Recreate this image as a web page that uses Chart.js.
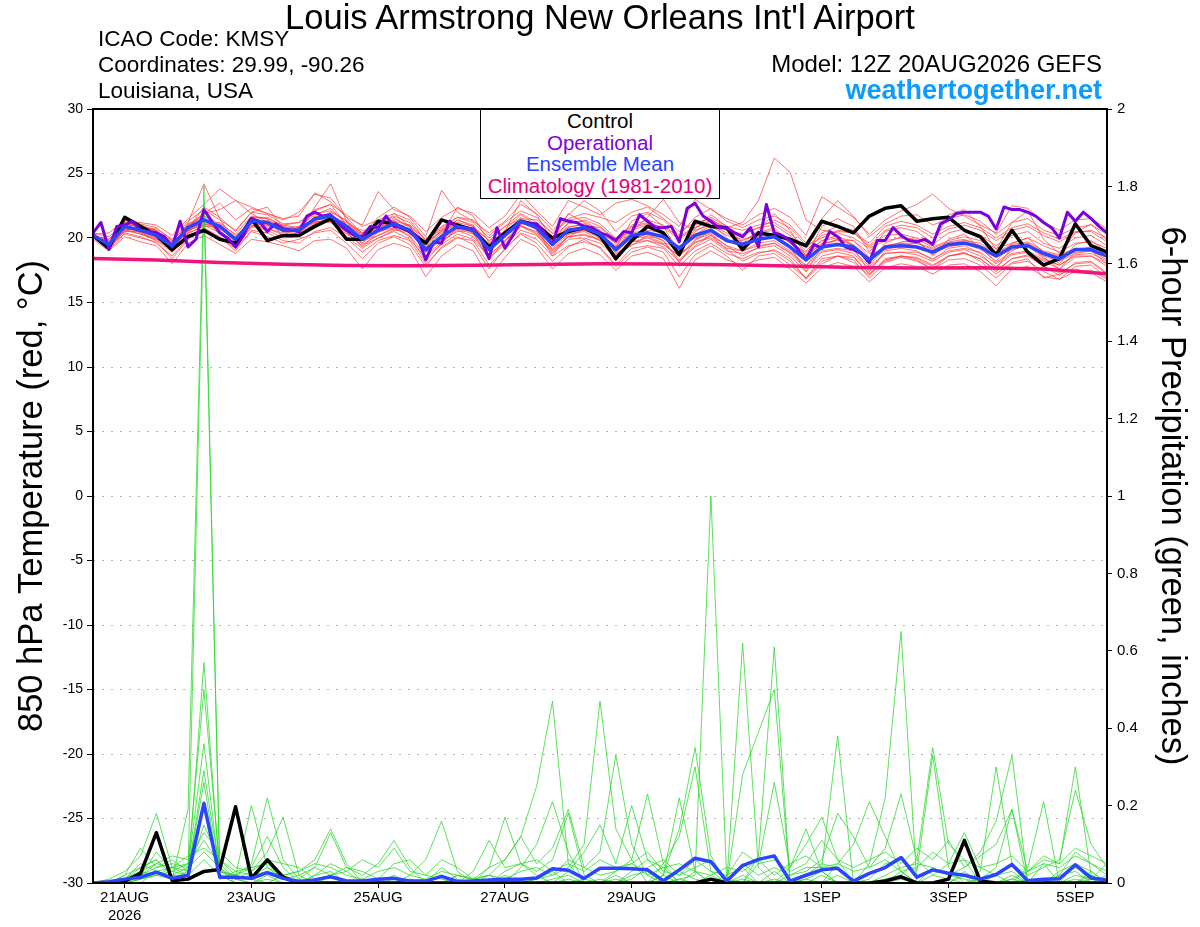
<!DOCTYPE html>
<html>
<head>
<meta charset="utf-8">
<title>KMSY GEFS 850 hPa temperature and precipitation</title>
<script src="https://cdn.jsdelivr.net/npm/chart.js@4.4.1/dist/chart.umd.min.js"></script>
<style>
  body { margin: 0; background: #fff; font-family: "Liberation Sans", Arial, sans-serif; }
  #wrap { position: relative; width: 1200px; height: 927px; }
  #wrap canvas { position: absolute; left: 0; top: 0; }
  .txt { position: absolute; white-space: nowrap; color: #000; }
  #title { left: 0; width: 1200px; top: -3px; text-align: center; font-size: 34.5px; line-height: 40px; }
  #info { left: 98px; top: 26px; font-size: 22.5px; line-height: 26px; }
  #model { right: 98px; top: 50px; font-size: 24px; line-height: 28px; text-align: right; }
  #site { right: 98px; top: 74px; font-size: 27px; line-height: 32px; font-weight: bold; color: #0d9bff; }
  #legend { position: absolute; left: 480px; top: 109px; width: 240px; height: 90px; background: #fff;
            border: 1.5px solid #000; text-align: center; font-size: 20.5px; line-height: 21.5px; box-sizing: border-box; }
</style>
</head>
<body>
<div id="wrap">
  <canvas id="plume" width="1200" height="927"></canvas>
  <div class="txt" id="title">Louis Armstrong New Orleans Int'l Airport</div>
  <div class="txt" id="info">ICAO Code: KMSY<br>Coordinates: 29.99, -90.26<br>Louisiana, USA</div>
  <div class="txt" id="model">Model: 12Z 20AUG2026 GEFS</div>
  <div class="txt" id="site">weathertogether.net</div>
  <div id="legend">
    <div style="color:#000">Control</div>
    <div style="color:#8000e0">Operational</div>
    <div style="color:#2a44ff">Ensemble Mean</div>
    <div style="color:#e6007e">Climatology (1981-2010)</div>
  </div>
</div>
<script>
// hours after 12Z 20AUG2026
var stepHours = 6;
var opStepHours = 3;
var climStepHours = 24;
var dayTicks = [12, 60, 108, 156, 204, 276, 324, 372];
var dayLabels = [['21AUG', '2026'], '23AUG', '25AUG', '27AUG', '29AUG', '1SEP', '3SEP', '5SEP'];

// 850 hPa temperature, 6-hourly
var tempControl = [20.2,19.2,21.6,20.9,20.2,19.1,20.1,20.6,19.9,19.6, 21.5,19.8,20.2,20.2,20.9,21.5,19.9,19.9,21.3,21.1,
  20.5,19.6,21.4,21.0,20.6,19.3,20.4,21.3,21.0,20.0, 20.5,20.8,20.2,18.4,19.8,20.9,20.4,18.7,21.3,20.9,
  20.8,19.1,20.4,20.2,19.9,19.4,21.3,20.9,20.4,21.7, 22.3,22.5,21.3,21.5,21.6,20.6,20.1,18.7,20.6,18.9,
  17.9,18.4,21.1,19.4,18.9];
var tempMean = [20.2,19.5,20.9,20.6,20.2,19.4,20.8,21.4,20.9,19.9, 21.3,21.2,20.6,20.6,21.5,21.7,20.9,19.9,20.6,21.1,
  20.6,19.1,20.1,20.9,20.6,19.1,20.2,21.3,20.8,19.5, 20.6,20.8,20.3,19.1,20.2,20.4,20.1,19.2,20.2,20.6,
  19.8,19.5,19.9,20.1,19.3,18.3,19.3,19.5,19.3,18.3, 19.3,19.4,19.3,18.9,19.5,19.6,19.3,18.6,19.3,19.4,
  18.8,18.4,19.1,19.1,18.6];
// operational run, 3-hourly
var tempOper = [20.4,21.2,19.1,20.9,21.0,21.3,20.6,20.5,20.4,20.1, 19.3,21.3,19.3,19.9,22.2,21.3,20.4,20.0,19.3,20.2,
  21.5,21.3,20.5,21.1,20.7,20.6,20.5,21.7,22.0,21.7, 21.8,21.1,20.6,20.2,20.1,20.9,20.8,21.7,20.9,20.8,
  20.5,20.1,18.3,19.7,19.6,21.3,20.8,20.8,20.7,19.9, 18.4,20.8,19.2,20.2,21.3,21.1,21.1,20.4,19.5,21.5,
  21.3,21.2,20.9,20.8,20.4,20.2,19.8,20.5,20.4,21.8, 21.3,20.8,20.8,20.9,19.7,22.3,22.7,21.7,21.3,20.8,
  20.8,20.4,20.1,20.8,19.3,22.6,20.4,20.2,19.8,19.1, 18.3,19.5,19.2,20.5,20.1,19.3,19.1,18.8,18.1,19.8,
  19.8,20.8,20.2,19.8,19.7,19.9,19.5,21.1,21.4,21.9, 22.0,22.0,22.0,21.7,20.7,22.4,22.2,22.2,22.0,21.7,
  21.2,20.8,20.0,22.0,21.3,22.0,21.5,20.9,20.4];
// climatology, daily
var tempClim = [18.42,18.29,18.1,17.97,17.87,17.85,17.88,17.95,18.0,17.98,17.92,17.83,17.72,17.68,17.7,17.6,17.22];

// ensemble members, 6-hourly
var tempE01 = [20.1,19.8,21.0,20.4,20.0,19.2,21.2,24.2,21.5,19.6, 21.0,20.8,20.2,20.9,21.8,22.3,21.0,20.2,20.9,21.6,
  20.8,18.9,20.3,21.2,20.9,19.4,20.6,21.8,21.0,19.8, 21.2,21.3,20.6,19.6,20.8,21.1,20.2,19.0,20.5,21.2,
  20.0,19.2,20.4,20.8,19.6,18.6,19.8,20.2,19.4,18.0, 19.6,20.1,19.8,18.6,19.9,20.3,19.2,18.2,19.6,20.0,
  18.9,18.0,19.5,19.8,18.9];
var tempE02 = [20.3,19.1,20.6,20.9,20.5,19.0,20.4,21.8,20.6,19.3, 21.6,21.5,20.1,20.3,22.4,24.2,21.3,19.5,20.2,20.8,
  20.2,18.6,19.7,20.6,20.1,18.6,19.8,20.9,20.3,18.9, 20.1,20.3,19.8,18.7,19.7,20.0,19.5,18.6,19.9,20.3,
  19.4,19.0,19.4,19.6,18.8,17.6,18.9,19.1,18.8,17.6, 18.8,18.9,18.7,18.2,18.9,19.1,18.6,17.8,18.7,18.9,
  18.2,17.6,18.5,18.6,18.0];
var tempE03 = [20.0,19.6,21.2,20.8,20.4,19.7,20.6,21.0,21.2,20.2, 21.2,20.9,21.0,20.8,21.2,21.5,21.2,20.4,20.5,21.3,
  21.0,19.6,20.5,21.0,20.8,19.8,20.3,21.4,21.1,19.9, 20.9,21.0,20.8,19.8,20.6,21.0,20.9,20.1,20.8,21.4,
  20.8,21.2,22.9,26.2,25.1,21.4,20.6,20.4,20.0,19.2, 19.8,20.0,19.9,19.3,19.8,20.1,19.8,19.2,19.6,20.0,
  19.4,18.9,19.6,19.7,19.2];
var tempE04 = [20.2,19.0,20.4,20.1,19.6,18.6,20.0,20.8,20.1,19.0, 20.6,20.4,19.8,19.6,20.5,20.8,20.0,18.9,19.8,20.2,
  19.8,18.0,19.2,20.0,19.8,17.9,19.1,20.4,19.9,18.6, 19.4,19.7,19.3,17.9,19.2,19.4,19.2,17.8,19.0,19.6,
  18.8,18.4,18.9,19.0,18.2,16.9,18.2,18.6,18.3,16.9, 18.1,18.5,18.2,17.6,18.3,18.4,17.9,16.9,18.0,18.2,
  17.4,16.8,17.8,17.9,16.9];
var tempE05 = [20.4,20.1,21.1,20.8,20.7,19.9,21.3,22.2,21.4,20.6, 22.0,21.8,21.1,21.2,22.2,22.6,21.8,20.9,21.4,21.9,
  21.4,19.8,20.8,21.6,21.4,20.2,21.2,22.1,21.6,20.3, 21.4,21.6,21.1,20.0,21.0,21.4,21.0,20.0,21.0,21.6,
  20.9,20.6,21.0,21.2,20.4,19.2,20.4,20.9,20.6,19.4, 20.6,21.0,20.8,20.0,20.7,21.0,20.6,19.8,20.6,20.9,
  20.2,19.7,20.4,20.6,20.0];
var tempE06 = [20.1,19.3,20.7,20.3,19.9,19.5,21.0,21.6,20.6,19.5, 21.0,20.7,20.4,20.8,21.3,21.2,20.3,19.6,20.9,21.4,
  20.3,19.4,20.6,21.2,20.3,19.6,20.5,21.0,20.4,19.2, 20.3,20.5,19.8,18.9,20.0,20.1,19.6,19.4,20.0,20.4,
  19.7,19.8,20.4,20.6,19.8,18.5,19.6,19.8,19.8,18.8, 19.1,19.4,19.6,19.2,19.7,19.9,19.4,18.9,19.5,19.7,
  19.0,18.7,19.2,19.0,18.5];
var tempE07 = [20.0,19.7,20.8,20.7,20.4,19.3,20.5,21.3,21.0,20.1, 21.1,21.4,20.8,20.4,21.6,21.9,20.6,19.8,20.2,20.7,
  20.6,19.0,19.8,20.5,20.6,19.0,20.1,21.1,20.9,19.6, 20.8,20.6,20.2,19.4,20.4,20.6,20.4,19.3,20.3,20.9,
  20.2,19.9,20.2,20.4,19.6,18.9,19.8,20.0,19.8,18.5, 19.4,19.6,19.6,19.1,19.6,19.8,19.6,18.8,19.4,19.6,
  18.9,18.6,19.1,19.3,18.8];
var tempE08 = [20.3,19.5,21.0,20.5,20.1,19.1,20.7,21.2,20.8,19.8, 21.4,21.0,20.5,20.3,21.7,21.6,21.0,20.6,20.6,21.5,
  20.9,19.3,20.4,21.4,21.0,19.3,20.4,21.6,20.6,19.1, 20.1,20.7,20.6,18.8,19.4,20.2,19.8,18.3,19.4,20.2,
  19.4,18.6,19.3,19.6,18.9,17.8,19.4,19.6,19.2,17.4, 19.0,19.2,19.0,18.3,19.2,19.4,18.8,17.6,19.3,19.4,
  18.4,17.9,18.6,18.6,17.8];
var tempE09 = [20.2,19.6,20.5,20.9,20.6,19.6,20.9,21.5,20.3,19.4, 20.8,21.3,20.9,20.7,21.4,22.0,21.4,20.1,20.4,21.0,
  21.0,19.9,20.9,21.6,21.2,20.0,20.9,21.5,21.4,20.4, 21.5,21.9,21.6,21.2,22.0,22.4,21.5,20.5,21.2,21.5,
  20.6,20.3,20.8,21.4,20.8,19.4,20.0,20.6,20.4,19.3, 20.2,20.3,20.0,19.5,20.4,20.7,20.2,19.4,20.2,20.5,
  19.6,19.2,20.0,20.2,19.4];
var tempE10 = [20.1,19.2,20.6,20.3,19.8,18.9,20.4,20.9,20.9,19.6, 21.2,21.0,20.6,20.5,21.2,21.4,20.4,19.4,20.0,20.6,
  20.5,18.9,19.9,20.7,20.3,18.7,19.7,20.9,20.5,19.0, 20.1,20.2,19.9,18.6,19.7,19.8,19.5,18.6,19.7,20.0,
  19.2,19.0,19.6,19.8,19.0,17.9,19.0,19.2,19.0,17.8, 18.8,18.9,18.9,18.4,19.0,19.2,18.9,18.0,18.8,19.0,
  18.3,17.9,18.7,18.8,18.2];
var tempE11 = [20.3,19.4,20.9,20.6,20.3,19.6,20.6,21.1,20.7,20.0, 21.3,21.1,20.7,20.9,21.4,21.5,20.8,20.0,20.7,21.2,
  20.7,19.2,20.1,20.9,20.5,19.3,20.2,21.2,20.7,19.4, 20.4,20.9,20.1,19.3,20.1,20.5,20.0,18.8,19.6,20.2,
  19.1,18.2,18.8,19.1,18.4,16.8,18.0,18.6,18.5,17.2, 18.2,18.6,18.4,17.8,18.6,18.8,18.4,17.5,18.4,18.7,
  17.8,17.1,18.1,18.2,17.3];
var tempE12 = [20.0,19.9,21.2,20.9,20.5,19.8,21.1,21.7,21.1,20.3, 21.7,21.5,21.0,21.2,21.9,22.1,21.3,20.4,21.1,21.7,
  21.2,19.8,20.7,21.4,20.9,19.8,20.9,21.9,21.2,20.1, 21.1,21.4,20.9,19.9,20.9,21.2,20.8,19.9,20.8,21.3,
  20.6,20.2,20.8,21.0,20.2,19.0,20.2,20.5,20.4,19.6, 20.9,21.3,21.0,20.3,20.9,21.2,20.8,20.0,20.8,21.1,
  20.4,19.9,20.5,20.5,19.7];
var tempE13 = [20.2,19.3,20.8,20.4,19.9,19.0,20.6,21.5,20.4,19.2, 20.9,20.6,20.0,20.1,21.1,21.3,20.1,19.2,20.0,20.5,
  19.9,18.5,19.5,20.3,19.9,18.5,19.5,20.6,20.2,18.8, 19.9,20.0,19.6,18.5,19.5,19.8,19.3,18.2,19.3,19.9,
  19.0,18.8,19.2,19.4,18.6,17.4,18.6,18.9,18.6,17.2, 18.4,18.6,18.5,17.9,18.6,18.8,18.4,17.4,18.4,18.6,
  17.8,17.3,18.0,18.1,17.2];
var tempE14 = [20.1,19.7,20.7,20.6,20.3,19.4,20.8,21.9,22.2,22.9, 21.9,21.2,20.5,20.6,21.3,21.8,21.0,20.3,20.8,21.3,
  20.4,19.6,20.6,21.1,20.7,19.5,20.4,21.3,20.9,19.8, 20.8,21.1,20.4,19.6,20.5,21.6,23.0,21.2,20.6,21.0,
  20.4,19.6,20.1,20.3,19.9,18.7,19.5,19.9,19.5,18.4, 19.4,19.6,19.3,18.9,19.3,19.6,19.1,18.5,19.1,19.4,
  18.6,18.2,18.8,19.0,18.3];
var tempE15 = [20.3,20.4,21.3,21.2,21.0,20.2,21.5,22.6,23.8,22.9, 22.4,21.9,21.5,21.7,23.5,22.8,21.6,21.0,23.6,22.2,
  21.7,20.5,21.6,22.3,21.9,20.8,21.7,23.4,22.1,20.9, 22.9,22.4,21.8,22.7,23.0,22.5,21.8,20.9,23.0,22.2,
  21.5,21.0,21.8,22.3,21.6,20.2,23.2,22.4,21.6,20.3, 21.4,22.1,22.6,23.4,22.3,21.7,21.0,20.4,22.5,22.3,
  21.2,20.6,21.4,21.5,20.7];
var tempE16 = [19.9,19.0,20.1,19.7,19.4,18.0,19.6,20.2,19.5,18.8, 19.9,19.7,19.4,19.0,19.8,19.9,19.2,17.6,19.1,19.6,
  19.2,17.0,18.6,19.5,19.0,16.9,18.5,19.9,19.3,17.6, 18.8,19.2,18.7,17.5,18.6,18.9,18.4,16.1,18.3,19.0,
  18.3,17.9,18.3,18.5,17.6,16.5,17.7,18.1,17.8,16.6, 17.7,18.0,17.8,17.2,17.9,18.0,17.4,16.3,17.6,17.8,
  17.0,16.8,17.4,17.5,16.8];
var tempE17 = [20.2,19.9,20.9,21.1,20.8,19.8,21.0,21.9,22.7,21.4, 22.3,21.9,21.4,22.0,23.4,23.1,21.6,20.3,21.6,22.4,
  21.6,20.1,23.7,22.0,21.3,20.4,21.3,22.6,21.9,20.6, 21.8,22.9,22.1,20.5,21.7,22.0,21.4,20.2,21.6,22.3,
  21.3,20.8,21.4,21.7,21.0,19.6,21.5,22.9,21.7,20.1, 21.1,21.7,21.8,21.0,21.5,21.8,21.3,20.3,21.2,21.5,
  20.6,20.2,20.8,21.0,20.3];
var tempE18 = [20.0,19.4,20.3,20.0,19.7,18.4,19.9,20.6,20.0,19.2, 20.5,20.1,19.6,19.9,20.4,20.6,19.6,18.4,19.6,20.1,
  19.5,17.8,19.3,20.1,19.5,17.6,19.2,20.3,19.6,18.2, 19.3,19.9,19.2,17.8,18.9,19.3,18.9,17.0,18.7,19.4,
  18.6,17.5,18.6,18.8,17.9,16.9,18.4,18.6,18.1,17.1, 18.3,18.6,18.3,17.6,18.6,18.9,18.2,17.2,18.1,18.4,
  16.9,17.2,17.6,17.3,16.6];
var tempE19 = [20.4,19.6,21.4,21.0,20.6,19.3,20.7,22.4,21.6,20.5, 22.0,22.4,20.8,20.7,22.1,22.6,21.0,19.6,20.6,21.9,
  20.9,19.2,20.2,22.4,21.7,19.6,20.5,22.9,21.8,19.8, 21.9,21.2,20.4,19.3,21.3,21.9,20.9,18.8,20.7,21.8,
  20.9,19.6,20.6,21.9,20.6,18.6,20.9,21.5,20.9,18.9, 20.5,20.8,20.5,19.6,21.8,22.2,20.9,19.1,21.2,22.1,
  19.9,18.8,20.4,21.1,19.8];
var tempE20 = [20.1,19.4,20.5,20.5,20.1,18.9,20.3,21.0,20.4,19.6, 21.6,21.6,20.9,20.4,21.1,21.3,20.5,19.3,20.5,20.8,
  20.1,18.2,19.6,20.8,20.4,18.3,19.8,21.2,20.7,18.6, 20.3,20.6,20.0,18.2,19.9,20.3,19.8,18.1,19.8,20.6,
  19.8,19.3,19.9,20.1,19.3,17.4,19.3,19.9,19.4,17.9, 19.2,19.7,19.8,18.7,19.4,19.8,19.3,18.1,19.0,19.6,
  18.5,17.6,18.9,19.0,18.0];

// 6-hour precipitation (inches)
var precipControl = [0,0,.005,.025,.13,.006,.01,.03,.035,.197, .012,.06,.015,0,0,0,0,0,0,0,
  0,0,0,0,0,0,0,0,0,0, 0,0,0,0,0,0,0,0,0,.01, 0,0,0,0,0,0,0,0,0,0,
  .005,.016,0,0,.01,.11,.005,0,0,0, 0,0,0,0,0];
var precipMean = [0,.003,.01,.015,.028,.012,.02,.206,.015,.015, .012,.027,.012,.004,.008,.016,.005,.005,.01,.012,
  .005,.005,.017,.004,.005,.008,.01,.01,.013,.037, .033,.012,.038,.038,.037,.034,.006,.034,.064,.055,
  .005,.045,.061,.07,.005,.02,.034,.038,.005,.025, .04,.066,.015,.034,.025,.02,.01,.022,.048,.006,
  .01,.011,.047,.013,.008];
var precipE01 = [0,0,0,.01,.02,.01,.19,1.80,.03,.01, 0,.02,0,0,0,0,0,.01,0,0, 0,0,.02,0,0,0,0,0,.01,.03,
  0,0,.01,0,0,0,0,.01,.02,1.00, .01,0,0,.01,0,0,.02,0,0,0, 0,.01,0,0,0,0,.03,.30,.05,0, 0,0,.01,0,0];
var precipE02 = [0,0,.01,.03,.05,.04,.03,1.75,.03,.02, .01,0,0,0,.01,0,0,0,0,.01, 0,0,0,0,0,.02,0,0,0,0,
  .01,0,0,0,.02,.03,0,0,0,.02, 0,.62,.04,0,0,.01,0,0,0,0, .01,.02,0,0,0,0,0,0,.01,0, 0,.02,.03,0,0];
var precipE03 = [0,0,0,.02,.08,.03,.02,.57,.02,0, 0,.01,0,0,0,0,0,0,0,0, 0,0,0,0,.01,.02,.06,.12,.25,.47,
  .05,0,0,.01,0,0,0,.01,0,0, 0,.01,0,.03,0,.02,.05,.04,0,0, 0,.03,0,0,0,0,.01,.04,.19,0, 0,0,0,.02,0];
var precipE04 = [0,0,.01,.05,.03,.04,.05,.50,.04,0, 0,0,0,0,.02,.03,0,0,0,0, .01,0,0,0,0,0,0,0,.01,.02,
  .04,.10,.47,.14,.06,0,0,0,0,.01, 0,0,.07,.61,0,0,0,0,0,0, 0,0,0,.02,.01,0,0,0,.02,0, 0,.01,.04,.02,0];
var precipE05 = [0,0,.02,.04,.06,.02,.04,.36,.02,.01, .02,.04,.02,0,0,0,0,0,0,0, 0,0,0,0,0,0,0,0,0,0,
  0,.01,0,0,0,0,.02,0,0,0, 0,.02,0,0,0,0,0,.02,0,.05, .22,.65,0,0,0,.02,0,0,0,.01, 0,0,0,.01,0];
var precipE06 = [0,0,0,0,.03,.01,.03,.29,.03,.02, .05,.22,.06,.01,0,0,0,0,0,.02, 0,0,.04,.01,0,0,0,0,0,0,
  0,0,0,0,.03,.06,.04,0,0,0, 0,0,0,0,.02,.04,.04,.38,0,0, 0,0,0,.04,.02,.01,0,0,0,0, .05,0,0,.03,0];
var precipE07 = [0,0,.01,.02,.04,.06,.03,.26,.01,.02, .20,.04,.01,0,0,0,0,0,0,0, 0,0,0,.02,.01,0,.02,0,0,0,
  0,0,0,0,0,0,.02,.14,.35,.07, 0,0,0,0,0,.01,.03,0,0,.01, .05,.06,.03,.33,.04,0,.01,.02,.03,0, 0,0,.02,.01,.05];
var precipE08 = [0,0,0,.01,.02,.03,.05,.11,.05,.01, .03,.08,.17,.02,0,0,0,0,0,0, 0,0,0,0,0,0,0,0,0,.01,
  .02,0,0,.02,0,0,.05,.12,.30,.03, 0,.28,.39,.50,0,0,0,0,0,0, 0,0,0,0,0,0,0,0,.01,.03, .07,.05,.30,.02,0];
var precipE09 = [0,.01,.03,.07,.18,.04,.02,.06,.02,0, 0,0,.02,.03,.06,.14,.05,0,0,0, .02,.06,.16,.03,0,0,0,.04,.10,.21,
  .08,0,0,.03,.06,.23,.05,0,.03,0, 0,0,0,0,0,0,0,.05,.10,.21, .12,.03,0,0,0,.03,0,.02,0,0, 0,.03,.05,.03,0];
var precipE10 = [0,0,.02,.09,.04,.05,.04,.08,.04,.01, 0,0,0,.01,.04,.13,.04,.02,.05,.11, .04,0,0,.02,.01,.04,.06,.12,.05,.09,
  .19,.04,.08,.33,.10,.02,0,.03,.01,0, 0,0,.05,.26,.04,.14,.03,0,0,0, 0,.02,.06,.35,.10,.06,0,0,0,.04, .21,0,.05,0,.02];
var precipE11 = [0,0,0,.01,.03,.02,.02,.15,.06,.02, .04,.12,.04,0,.02,.05,.03,0,0,0, 0,0,.02,0,0,.04,.17,.05,.02,0,
  .03,.08,.15,.05,.20,.06,.02,.22,.03,0, .02,.04,0,0,.04,.10,.17,.06,0,0, .02,.04,.05,.04,.02,.04,.08,.16,.33,0, 0,.02,.08,.05,.02];
var precipE12 = [0,0,.01,.04,.06,.02,.01,.20,.01,.03, .04,.05,.01,.02,.04,.02,.03,.06,.04,.09, .03,.02,.01,0,.03,.11,.04,.05,.03,.06,
  .18,.02,0,0,.01,.04,.06,.02,.04,.06, .01,.05,.02,.04,.02,.03,.06,.18,.12,.04, .09,.23,.06,.02,.05,.13,.04,.02,.05,.02, .04,.06,.24,.10,.04];
var precipE13 = [0,0,0,.02,.05,.07,.06,.13,.08,.04, .03,.06,.05,.04,.01,.02,.04,.03,.01,.05, .06,.02,.06,.04,.01,0,.03,.05,.06,.03,
  .05,.03,.06,.04,.05,.08,.03,.02,.06,.03, .02,.08,.05,.06,.03,.05,.11,.06,.04,.06, .08,.05,.09,.06,.11,.04,.07,.10,.19,.03, .06,.05,.09,.07,.05];
var precipE14 = [0,0,.01,.03,.02,.04,.07,.09,.06,.03, .02,.03,.02,.03,.05,.04,.02,.01,.03,.04, .02,.01,.03,.02,.01,.02,.01,.03,.04,.02,
  .06,.04,.02,.03,.05,.02,.04,.05,.03,.02, .04,.03,.06,.02,.05,.07,.04,.05,.03,.04, .06,.03,.04,.08,.05,.06,.04,.05,.07,.03, .05,.04,.07,.05,.03];

var tempMembers = [tempE01, tempE02, tempE03, tempE04, tempE05, tempE06, tempE07, tempE08, tempE09, tempE10,
  tempE11, tempE12, tempE13, tempE14, tempE15, tempE16, tempE17, tempE18, tempE19, tempE20];
var precipMembers = [precipE01, precipE02, precipE03, precipE04, precipE05, precipE06, precipE07,
  precipE08, precipE09, precipE10, precipE11, precipE12, precipE13, precipE14];

var fontFamily = '"Liberation Sans", Arial, sans-serif';

function toPoints(values, step) {
  return values.map(function (v, i) { return { x: i * step, y: v }; });
}

function lineSet(label, values, step, axis, color, width, order) {
  return {
    label: label,
    data: toPoints(values, step),
    yAxisID: axis,
    borderColor: color,
    borderWidth: width,
    pointRadius: 0,
    tension: 0,
    fill: false,
    order: order,
    borderJoinStyle: width > 2 ? 'round' : 'miter'
  };
}

function buildDatasets() {
  var sets = [];
  sets.push(lineSet('Ensemble Mean precip', precipMean, stepHours, 'yP', '#2a44ff', 3.5, 1));
  sets.push(lineSet('Control precip', precipControl, stepHours, 'yP', '#000000', 3.5, 2));
  sets.push(lineSet('Ensemble Mean', tempMean, stepHours, 'yT', '#2a44ff', 3.5, 3));
  sets.push(lineSet('Operational', tempOper, opStepHours, 'yT', '#7a00e0', 3, 4));
  sets.push(lineSet('Control', tempControl, stepHours, 'yT', '#000000', 3.5, 5));
  sets.push(lineSet('Climatology (1981-2010)', tempClim, climStepHours, 'yT', '#f0147c', 3.5, 6));
  precipMembers.forEach(function (m, k) {
    sets.push(lineSet('precip member ' + (k + 1), m, stepHours, 'yP', 'rgba(40,215,40,0.85)', 0.9, 10));
  });
  tempMembers.forEach(function (m, k) {
    sets.push(lineSet('temp member ' + (k + 1), m, stepHours, 'yT', 'rgba(255,60,60,0.8)', 0.9, 11));
  });
  return sets;
}

var framePlugin = {
  id: 'frame',
  afterDatasetsDraw: function (chart) {
    var a = chart.chartArea, c = chart.ctx;
    c.save();
    c.strokeStyle = '#000';
    c.lineWidth = 2;
    c.strokeRect(a.left, a.top, a.right - a.left, a.bottom - a.top);
    c.restore();
  }
};

Chart.defaults.font.family = fontFamily;
Chart.defaults.color = '#000';

new Chart(document.getElementById('plume'), {
  type: 'line',
  data: { datasets: buildDatasets() },
  options: {
    responsive: false,
    animation: false,
    events: [],
    layout: { padding: { top: 109, left: 0, right: 0, bottom: 0 } },
    plugins: { legend: { display: false }, tooltip: { enabled: false }, title: { display: false } },
    scales: {
      x: {
        type: 'linear',
        min: 0,
        max: 384,
        afterBuildTicks: function (s) {
          s.ticks = dayTicks.map(function (v) { return { value: v }; });
        },
        afterFit: function (s) { s.height = 44; },
        grid: { drawOnChartArea: false, tickLength: 5, color: '#000', tickColor: '#000', lineWidth: 1 },
        border: { display: false },
        ticks: {
          autoSkip: false,
          maxRotation: 0,
          padding: 1,
          font: { size: 15 },
          callback: function (v) {
            var k = dayTicks.indexOf(v);
            return k < 0 ? '' : dayLabels[k];
          }
        }
      },
      yT: {
        position: 'left',
        min: -30,
        max: 30,
        afterFit: function (s) { s.width = 93; },
        ticks: { stepSize: 5, padding: 4, font: { size: 14 } },
        grid: {
          color: function (ctx) {
            var v = ctx.tick ? ctx.tick.value : 0;
            return (v === 30 || v === -30) ? 'rgba(0,0,0,0)' : '#b4b4b4';
          },
          tickColor: '#000',
          tickLength: 6,
          lineWidth: 1
        },
        border: { display: false, dash: [2, 7] },
        title: { display: true, text: '850 hPa Temperature (red, \u00B0C)', font: { size: 34.5 }, padding: { top: 12, bottom: 0 } }
      },
      yP: {
        position: 'right',
        min: 0,
        max: 2,
        afterFit: function (s) { s.width = 93; },
        ticks: {
          stepSize: 0.2,
          padding: 5,
          font: { size: 15 },
          callback: function (v) { return String(Math.round(v * 10) / 10); }
        },
        grid: { drawOnChartArea: false, tickLength: 5, color: '#000', tickColor: '#000', lineWidth: 1 },
        border: { display: false },
        title: { display: true, text: '6-hour Precipitation (green, inches)', font: { size: 34.5 }, padding: { top: 8, bottom: 0 } }
      }
    }
  },
  plugins: [framePlugin]
});
</script>
</body>
</html>
